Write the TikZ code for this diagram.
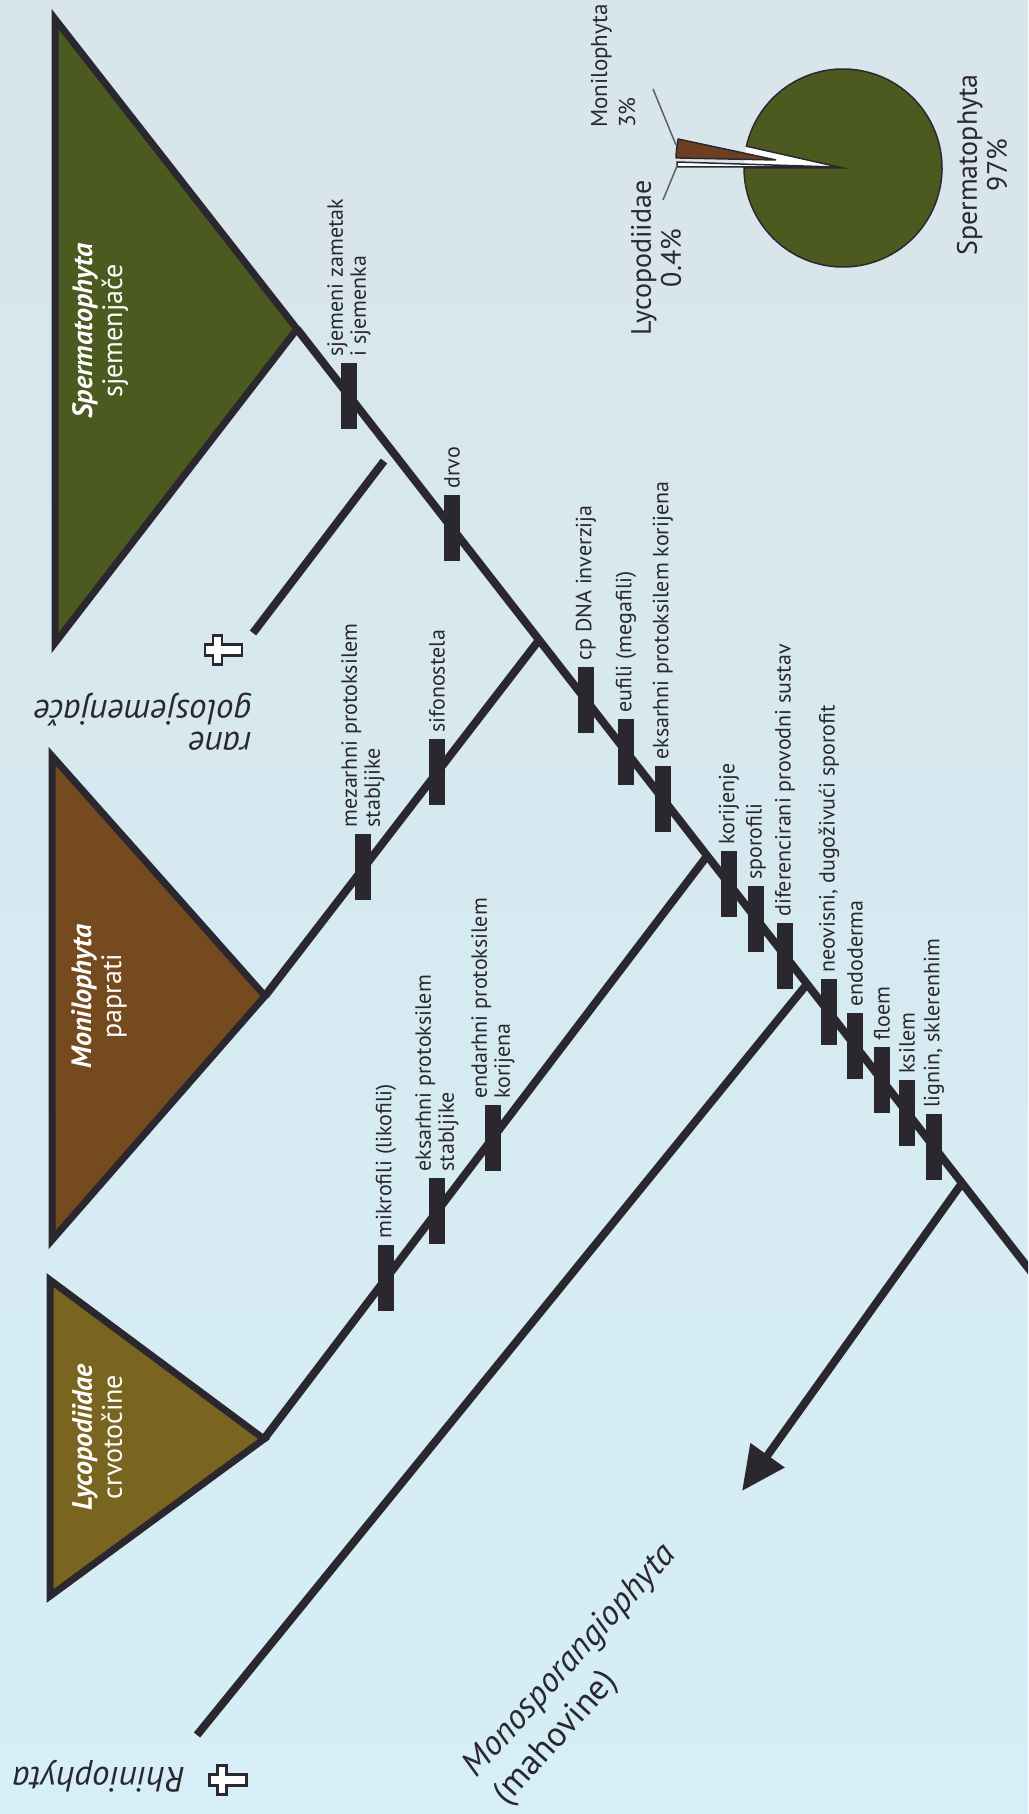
\documentclass[tikz,border=0pt]{standalone}
\usepackage{fontspec}
\setsansfont{PT Sans}
\usepackage{tikz}
\usetikzlibrary{
  arrows.meta,  % Tip "Triangle" on the moss arrow
  positioning,
}
\definecolor{paper}{RGB}{213,235,243}
\definecolor{papertop}{RGB}{216,229,234}
\definecolor{paperbot}{RGB}{213,238,247}
\definecolor{ink}{RGB}{42,40,46}
\definecolor{seedgreen}{RGB}{76,90,31}
\definecolor{fernbrown}{RGB}{117,74,31}
\definecolor{lycoolive}{RGB}{121,101,31}
\definecolor{piebrown}{RGB}{110,62,32}
% Latin cross lying on its side, short arm to the left
\newcommand{\mycross}[1]{%
  \draw[my cross] (#1) ++(-12.5,-5.5) -- ++(8,0) -- ++(0,-9) -- ++(9,0)
    -- ++(0,9) -- ++(20,0) -- ++(0,11) -- ++(-20,0) -- ++(0,9) -- ++(-9,0)
    -- ++(0,-9) -- ++(-8,0) -- cycle;}
\def\mybarw{16pt}
\def\mybarh{66pt}
\tikzset{
  font=\sffamily,
  >={Triangle[length=44pt,width=40pt]},
  my line/.style={
    draw=ink,
    line width=8pt
  },
  my clade/.style={
    draw=ink,
    line width=7pt,
    line join=miter
  },
  my bar/.style={
    fill=ink,
    minimum width=\mybarw,
    minimum height=\mybarh,
    inner sep=0pt
  },
  my trait/.style={
    rotate=90,
    anchor=west,
    align=left,
    inner sep=6pt,
    text=ink,
    font=\sffamily\fontsize{22}{23}\selectfont
  },
  my clade name/.style={
    rotate=90,
    align=center,
    inner sep=0pt,
    text=white,
    font=\sffamily\fontsize{28}{30}\selectfont
  },
  my pie name/.style={
    rotate=90,
    align=center,
    inner sep=0pt,
    text=ink,
    font=\sffamily\fontsize{28}{30}\selectfont
  },
  my extinct/.style={
    rotate=180,
    align=left,
    inner sep=0pt,
    text=ink,
    font=\sffamily\itshape\fontsize{35}{32}\selectfont
  },
  my moss/.style={
    rotate=48,
    align=left,
    inner sep=0pt,
    text=ink,
    font=\sffamily\fontsize{35}{41}\selectfont
  },
  my cross/.style={
    draw=ink,
    line width=2.5pt,
    fill=white,
    line join=miter
  },
  my slice/.style={
    draw=ink,
    line width=1.5pt
  },
  my leader/.style={
    draw=ink!75,
    line width=1.5pt
  }
}

\begin{document}
\begin{tikzpicture}[x=1pt,y=-1pt]
\useasboundingbox (0,0) rectangle (1028,1814);
\clip (0,0) rectangle (1028,1814);
\shade[top color=papertop,middle color=paper,bottom color=paperbot] (0,0) rectangle (1028,1814);

% clades
\coordinate (spermApex) at (297,329);
\coordinate (fernApex)  at (265,996);
\coordinate (lycoApex)  at (264,1439);
\draw[my clade,fill=seedgreen] (55,19)   -- (55,643)  -- (spermApex) -- cycle;
\draw[my clade,fill=fernbrown] (52,756)  -- (52,1240) -- (fernApex)  -- cycle;
\draw[my clade,fill=lycoolive] (50,1280) -- (50,1596) -- (lycoApex)  -- cycle;
\node[my clade name] (spermL) at (100,331)  {\textbf{\textit{Spermatophyta}}\\sjemenjače};
\node[my clade name] (fernL)  at (99,996)   {\textbf{\textit{Monilophyta}}\\paprati};
\node[my clade name] (lycoL)  at (97,1437)  {\textbf{\textit{Lycopodiidae}}\\crvotočine};

% tree
\coordinate (trunkEnd)  at (1036,1278);
\coordinate (jFern)     at (539,640);
\coordinate (jLyco)     at (707,856);
\coordinate (jRhinio)   at (807,984);
\coordinate (jMoss)     at (962,1183);
\coordinate (raneTop)   at (384,461);
\coordinate (raneEnd)   at (253,633);
\coordinate (rhinioEnd) at (197,1735);
\coordinate (mossTip)   at (742,1491);
\path[my line] (spermApex) -- (trunkEnd)
               (jFern)     -- (fernApex)
               (jLyco)     -- (lycoApex)
               (jRhinio)   -- (rhinioEnd)
               (raneTop)   -- (raneEnd);
\draw[my line,->] (jMoss) -- (mossTip);

% synapomorphies on the trunk
\node[my bar] (seed)     at (349,396)  {};
\node[my bar] (wood)     at (452,528)  {};
\node[my bar] (cpdna)    at (586,700)  {};
\node[my bar] (euphyll)  at (626,752)  {};
\node[my bar] (exroot)   at (663,799)  {};
\node[my bar] (roots)    at (729,884)  {};
\node[my bar] (sporoph)  at (756,919)  {};
\node[my bar] (diffvasc) at (785,956)  {};
\node[my bar] (indep)    at (829,1012) {};
\node[my bar] (endod)    at (855,1046) {};
\node[my bar] (phloem)   at (882,1080) {};
\node[my bar] (xylem)    at (907,1113) {};
\node[my bar] (lignin)   at (934,1147) {};
\node[my trait] (seed-l)     at (seed.north)     {sjemeni zametak\\i sjemenka};
\node[my trait] (wood-l)     at (wood.north)     {drvo};
\node[my trait] (cpdna-l)    at (cpdna.north)    {cp DNA inverzija};
\node[my trait] (euphyll-l)  at (euphyll.north)  {eufili (megafili)};
\node[my trait] (exroot-l)   at (exroot.north)   {eksarhni protoksilem korijena};
\node[my trait] (roots-l)    at (roots.north)    {korijenje};
\node[my trait] (sporoph-l)  at (sporoph.north)  {sporofili};
\node[my trait] (diffvasc-l) at (diffvasc.north) {diferencirani provodni sustav};
\node[my trait] (indep-l)    at (indep.north)    {neovisni, dugoživući sporofit};
\node[my trait] (endod-l)    at (endod.north)    {endoderma};
\node[my trait] (phloem-l)   at (phloem.north)   {floem};
\node[my trait] (xylem-l)    at (xylem.north)    {ksilem};
\node[my trait] (lignin-l)   at (lignin.north)   {lignin, sklerenhim};

% ferns and lycophytes
\node[my bar] (siphono) at (437,772)  {};
\node[my bar] (mesarch) at (363,867)  {};
\node[my bar] (endroot) at (493,1138) {};
\node[my bar] (exstem)  at (437,1211) {};
\node[my bar] (microph) at (386,1278) {};
\node[my trait] (siphono-l) at (siphono.north) {sifonostela};
\node[my trait] (mesarch-l) at (mesarch.north) {mezarhni protoksilem\\stabljike};
\node[my trait] (endroot-l) at (endroot.north) {endarhni protoksilem\\korijena};
\node[my trait] (exstem-l)  at (exstem.north)  {eksarhni protoksilem\\stabljike};
\node[my trait] (microph-l) at (microph.north) {mikrofili (likofili)};

% extinct lines and mosses
\node[my extinct,anchor=north west] (raneL) at (252,751) {rane\\golosjemenjače};
\coordinate (raneX) at (217.5,650);
\mycross{raneX}
\node[my extinct] (rhinioL) at (99,1776) {Rhiniophyta};
\coordinate (rhinioX) at (222,1780);
\mycross{rhinioX}
\node[my moss,anchor=north west] (mossL) at (458,1762) {\textit{Monosporangiophyta}\\(mahovine)};

% pie
\coordinate (pieC) at (843,168);
\fill[white] (pieC) -- ++(180:99) arc[start angle=180,end angle=192.7,radius=99] -- cycle;
\draw[my slice,fill=seedgreen] (pieC) -- ++(192.7:99)
  arc[start angle=192.7,end angle=540,radius=99] -- cycle;
\draw[my slice,fill=white] (835,167) -- (677,162) -- (677,167) -- cycle;
\draw[my slice,fill=piebrown] (776,160) -- ++(181.2:100)
  arc[start angle=181.2,end angle=192.1,radius=100] -- cycle;
\node[my pie name] (pieSperm) at (982,165) {Spermatophyta\\97\%};
\node[my pie name] (pieLyco)  at (656,258) {Lycopodiidae\\0.4\%};
\node[my pie name,anchor=west,align=left,font=\sffamily\fontsize{23}{28}\selectfont]
  (pieFern) at (613,128) {Monilophyta\\3\%};
\coordinate (fernLeadA) at (653,89);
\coordinate (fernLeadB) at (676,145);
\coordinate (lycoLeadA) at (677,166);
\coordinate (lycoLeadB) at (663,200);
\draw[my leader] (fernLeadA) -- (fernLeadB);
\draw[my leader] (lycoLeadA) -- (lycoLeadB);
\end{tikzpicture}
\end{document}
